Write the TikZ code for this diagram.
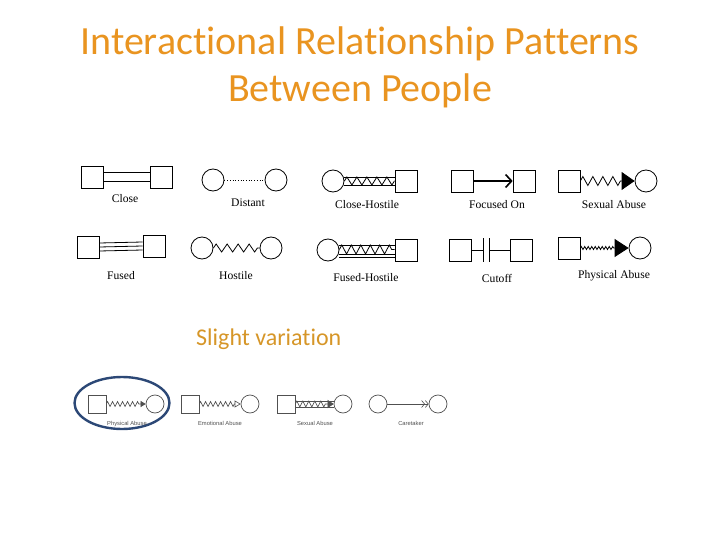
\documentclass[tikz,border=0pt]{standalone}
\usepackage{fontspec}
\setmainfont{Liberation Serif}
\newfontfamily\slidefont[RawFeature=-liga]{Carlito}
\newfontfamily\tinysans{Liberation Sans}
\usetikzlibrary{arrows.meta,decorations.pathmorphing,shapes.geometric}
\definecolor{titleorange}{RGB}{233,148,32}
\definecolor{variationgold}{RGB}{214,150,40}
\definecolor{ringblue}{RGB}{44,72,118}
\definecolor{scangray}{RGB}{80,80,80}

\tikzset{
  sqr/.style={draw, rectangle, minimum size=22pt, inner sep=0pt, line width=0.7pt},
  crc/.style={draw, circle, minimum size=22pt, inner sep=0pt, line width=0.8pt},
  smallsqr/.style={draw=scangray, rectangle, minimum size=18pt, inner sep=0pt, line width=0.6pt},
  smallcrc/.style={draw=scangray, circle, minimum size=18pt, inner sep=0pt, line width=0.7pt},
  lbl/.style={anchor=base, font=\fontsize{11.6}{13}\selectfont},
  tinylbl/.style={anchor=base, text=scangray, font=\tinysans\fontsize{5.8}{6}\selectfont},
  link/.style={line width=0.8pt},
  zigzagline/.style={decorate, decoration={zigzag, segment length=11pt, amplitude=4pt}}
}

\begin{document}
\begin{tikzpicture}[x=1pt, y=-1pt]
    \useasboundingbox (0,0) rectangle (720,540);

    % Title
    \node (title1) [anchor=base, text=titleorange, font=\slidefont\fontsize{40}{44}\selectfont] at (360,55) {Interactional Relationship Patterns};
    \node (title2) [anchor=base, text=titleorange, font=\slidefont\fontsize{40}{44}\selectfont] at (360,102) {Between People};

    % Close
    \node (close1) [sqr] at (92,177) {};
    \node (close2) [sqr] at (161,177) {};
    \draw[link] ([yshift=4.5pt]close1.east) -- ([yshift=4.5pt]close2.west);
    \draw[link] ([yshift=-4.5pt]close1.east) -- ([yshift=-4.5pt]close2.west);
    \node (closeLbl) [lbl] at (125,203) {Close};

    % Distant
    \node (dist1) [crc] at (213,180) {};
    \node (dist2) [crc] at (276,180) {};
    \draw[dotted, line width=0.7pt] (dist1) -- (dist2);
    \node (distLbl) [lbl] at (248,207) {Distant};

    % Close-Hostile
    \node (ch1) [crc] at (333,181) {};
    \node (ch2) [sqr] at (406,181) {};
    \draw[link] ([yshift=4pt]ch1.east) -- ([yshift=4pt]ch2.west);
    \draw[link] ([yshift=-4pt]ch1.east) -- ([yshift=-4pt]ch2.west);
    \draw[link, decorate, decoration={zigzag, segment length=10pt, amplitude=4pt}] (ch1) -- (ch2);
    \node (chLbl) [lbl] at (367,209) {Close-Hostile};

    % Focused On
    \node (fo1) [sqr] at (462,181) {};
    \node (fo2) [sqr] at (524,181) {};
    \draw[line width=1.4pt, -{Straight Barb[length=6pt, width=13pt, line width=1.6pt]}] (fo1) -- (fo2);
    \node (foLbl) [lbl] at (497,209) {Focused On};

    % Sexual Abuse
    \node (sa1) [sqr] at (569,181) {};
    \node (sa2) [crc] at (646,181) {};
    \draw[link, -{Triangle[length=13pt, width=18pt]}, decorate,
          decoration={zigzag, segment length=10pt, amplitude=4.5pt, post length=13pt}] (sa1) -- (sa2);
    \node (saLbl) [lbl] at (614,209) {Sexual Abuse};

    % Fused
    \node (fu1) [sqr] at (88,247) {};
    \node (fu2) [sqr] at (154,246) {};
    \foreach \dy in {-4,0,4}
      \draw[link] ([yshift=\dy pt]fu1.east) -- ([yshift=\dy pt]fu2.west);
    \node (fuLbl) [lbl] at (121,279) {Fused};

    % Hostile
    \node (ho1) [crc] at (202,248) {};
    \node (ho2) [crc] at (271,248) {};
    \draw[link, zigzagline] (ho1) -- (ho2);
    \node (hoLbl) [lbl] at (236,279) {Hostile};

    % Fused-Hostile
    \node (fh1) [crc] at (328,250) {};
    \node (fh2) [sqr] at (406,250) {};
    \foreach \dy in {5,-4,-7}
      \draw[link] ([yshift=\dy pt]fh1.east) -- ([yshift=\dy pt]fh2.west);
    \draw[link, decorate, decoration={zigzag, segment length=9.5pt, amplitude=4.5pt}] ([yshift=0.5pt]fh1.east) -- ([yshift=0.5pt]fh2.west);
    \node (fhLbl) [lbl] at (366,281) {Fused-Hostile};

    % Cutoff
    \node (cut1) [sqr] at (460,250) {};
    \node (cut2) [sqr] at (521,250) {};
    \coordinate (cutA) at (483,250);
    \coordinate (cutB) at (489,250);
    \draw[link] (cut1) -- (cutA);
    \draw[link] (cutB) -- (cut2);
    \draw[line width=1pt] ([yshift=12pt]cutA) -- ([yshift=-12pt]cutA);
    \draw[line width=1pt] ([yshift=12pt]cutB) -- ([yshift=-12pt]cutB);
    \node (cutLbl) [lbl] at (497,282) {Cutoff};

    % Physical Abuse
    \node (pa1) [sqr] at (569,248) {};
    \node (pa2) [crc] at (640,248) {};
    \draw[link, -{Triangle[length=14pt, width=18pt]}, decorate,
          decoration={zigzag, segment length=3.5pt, amplitude=1.5pt, post length=14pt}] (pa1) -- (pa2);
    \node (paLbl) [lbl] at (614,278) {Physical Abuse};

    % Slight variation
    \node (variation) [anchor=base west, inner sep=0pt, text=variationgold, font=\slidefont\fontsize{24}{28}\selectfont] at (196,345) {Slight variation};

    \node (ring) [draw=ringblue, ellipse, line width=2.4pt, minimum width=95pt, minimum height=52pt] at (122,403) {};

    % Physical Abuse (variation)
    \node (vpa1) [smallsqr] at (97,404) {};
    \node (vpa2) [smallcrc] at (155,404) {};
    \draw[scangray, line width=0.6pt, -{Triangle[length=5pt, width=6pt]}, decorate,
          decoration={zigzag, segment length=5pt, amplitude=2.5pt, post length=5pt}] (vpa1) -- (vpa2);
    \node (vpaLbl) [tinylbl] at (127,425) {Physical Abuse};

    % Emotional Abuse
    \node (vea1) [smallsqr] at (190,404) {};
    \node (vea2) [smallcrc] at (250,404) {};
    \draw[scangray, line width=0.6pt, -{Triangle[open, length=6pt, width=7pt]}, decorate,
          decoration={zigzag, segment length=5pt, amplitude=2.5pt, post length=6pt}] (vea1) -- (vea2);
    \node (veaLbl) [tinylbl] at (220,425) {Emotional Abuse};

    % Sexual Abuse (variation)
    \node (vsa1) [smallsqr] at (286,404) {};
    \node (vsa2) [smallcrc] at (343,404) {};
    \draw[scangray, line width=0.6pt] ([yshift=3pt]vsa1.east) -- ([yshift=3pt]vsa2.west);
    \draw[scangray, line width=0.6pt] ([yshift=-3pt]vsa1.east) -- ([yshift=-3pt]vsa2.west);
    \draw[scangray, line width=0.6pt, -{Triangle[length=6pt, width=8pt]}, decorate,
          decoration={zigzag, segment length=6pt, amplitude=3pt, post length=6pt}] (vsa1) -- (vsa2);
    \node (vsaLbl) [tinylbl] at (315,425) {Sexual Abuse};

    % Caretaker
    \node (vct1) [smallcrc] at (378,404) {};
    \node (vct2) [smallcrc] at (438,404) {};
    \draw[scangray, line width=0.6pt, -{Straight Barb[length=3pt, width=7pt] Straight Barb[length=3pt, width=7pt]}] (vct1) -- (vct2);
    \node (vctLbl) [tinylbl] at (411,425) {Caretaker};
\end{tikzpicture}
\end{document}
